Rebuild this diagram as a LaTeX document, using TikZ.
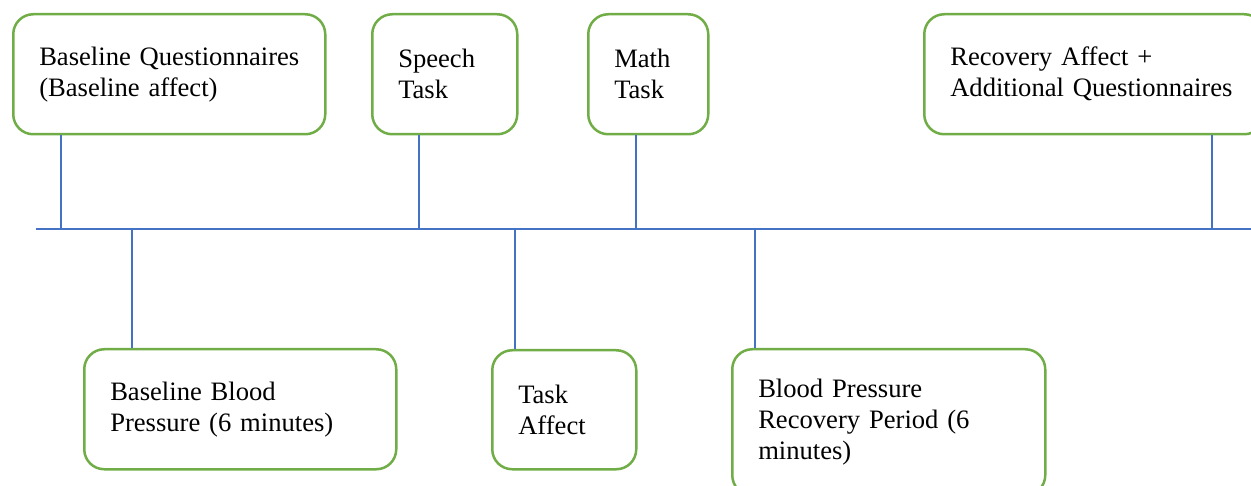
\documentclass[tikz,border=0pt]{standalone}
\usepackage{fontspec}
\setmainfont{Liberation Serif}
\definecolor{boxgreen}{HTML}{70AD47}
\definecolor{lineblue}{HTML}{4472C4}

\begin{document}
\begin{tikzpicture}[x=1pt,y=-1pt,
    task box/.style={draw=boxgreen,line width=2.5pt,rounded corners=20pt,anchor=north west,
      align=left,inner xsep=26pt,inner ysep=0pt,minimum height=120pt,
      font=\fontsize{26.6}{31}\selectfont},
    link/.style={draw=lineblue,line width=1.2pt}]
\useasboundingbox (0,0) rectangle (1251,486);

% boxes above the time line
\node[task box,text width=260pt] (1) at (12,13) {\mbox{Baseline Questionnaires}\\(Baseline affect)};
\node[task box,text width=93pt] (2) at (371,13) {Speech\\Task};
\node[task box,text width=68pt] (3) at (587,13) {Math\\Task};
\node[task box,text width=288pt] (4) at (923,13) {Recovery Affect +\\\mbox{Additional Questionnaires}};

% boxes below the time line
\node[task box,text width=260pt] (5) at (83,348) {Baseline Blood\\Pressure (6 minutes)};
\node[task box,text width=92pt,minimum height=119pt] (6) at (491,349) {Task\\Affect};
\node[task box,text width=261pt,minimum height=146pt] (7) at (731,348) {Blood Pressure\\Recovery Period (6\\minutes)};

% time line
\coordinate (start) at (36,229);
\coordinate (end) at (1251,229);
\coordinate (t1) at (61,229);
\coordinate (t2) at (419,229);
\coordinate (t3) at (636,229);
\coordinate (t4) at (1212,229);
\coordinate (t5) at (132,229);
\coordinate (t6) at (515,229);
\coordinate (t7) at (755,229);

\path (start) edge[link] (end)
(t1) edge[link] (t1 |- 1.south)
(t2) edge[link] (t2 |- 2.south)
(t3) edge[link] (t3 |- 3.south)
(t4) edge[link] (t4 |- 4.south)
(t5) edge[link] (t5 |- 5.north)
(t6) edge[link] (t6 |- 6.north)
(t7) edge[link] (t7 |- 7.north)
;

\end{tikzpicture}
\end{document}
